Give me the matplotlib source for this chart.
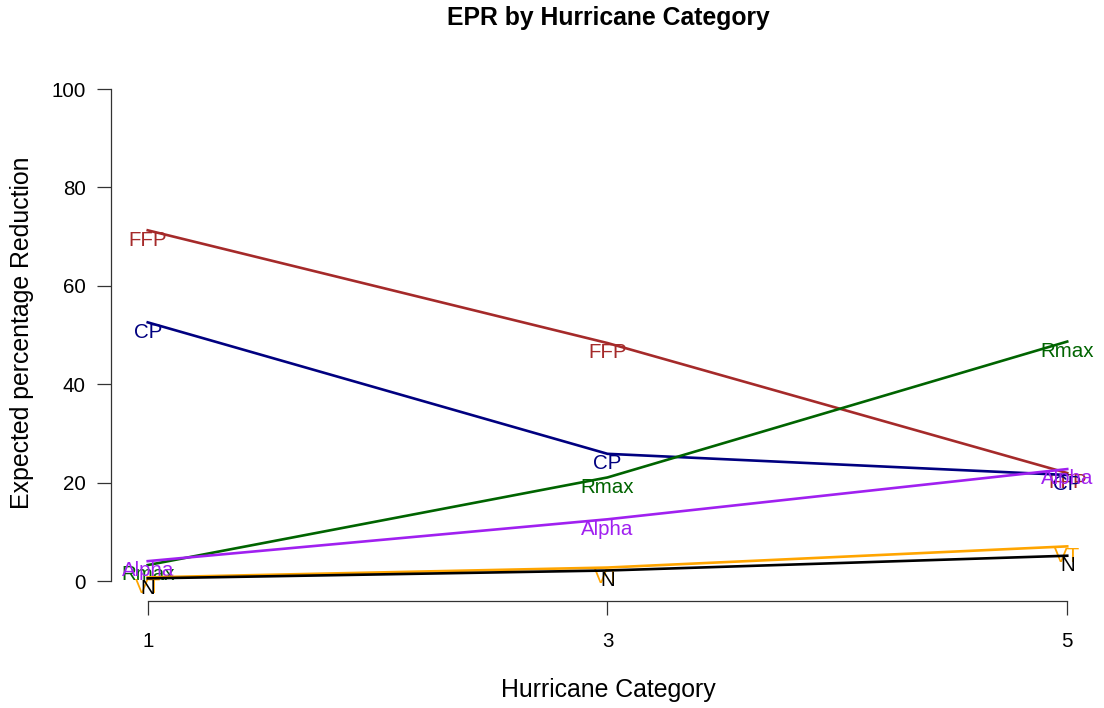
import matplotlib
matplotlib.use("Agg")
import matplotlib.pyplot as plt

# Expected percentage reduction per hurricane category
categories = [1, 3, 5]
series_names = ["FFP", "CP", "Rmax", "Alpha", "VT", "N"]
series_colors = ["#A52A2A", "#000080", "#006400", "#A020F0", "#FFA500", "#000000"]
ffp = [71.3, 48.4, 22.0]
cp = [52.6, 25.9, 21.6]
rmax = [3.3, 21.1, 48.7]
alpha = [4.1, 12.6, 22.8]
vt = [0.8, 2.8, 7.1]
n = [0.6, 2.2, 5.2]
values = [ffp, cp, rmax, alpha, vt, n]

y_ticks = [0, 20, 40, 60, 80, 100]

plt.rcParams["font.family"] = ["Liberation Sans", "DejaVu Sans"]

fig = plt.figure(figsize=(11.04, 7.08), dpi=100)
ax = fig.add_axes([0.1005, 0.1511, 0.8995, 0.751])

for i, (name, col, vals) in enumerate(zip(series_names, series_colors, values)):
    ax.plot(categories, vals, color=col, lw=1.9, zorder=2 + i)
    for x, y in zip(categories, vals):
        # labels sit just under each point
        ax.text(x, y - 2, name, color=col, fontsize=14.8,
                ha="center", va="center", zorder=2 + i)

ax.set_xlim(0.84, 5.16)
ax.set_ylim(-4, 104)
ax.set_xticks(categories)
ax.set_yticks(y_ticks)
ax.tick_params(axis="both", labelsize=14.8, length=10, width=0.9, color="#333333")
ax.tick_params(axis="x", pad=12)
ax.tick_params(axis="y", pad=8)

for side in ["top", "right"]:
    ax.spines[side].set_visible(False)
ax.spines["left"].set_bounds(0, 100)
ax.spines["bottom"].set_bounds(1, 5)
for side in ["left", "bottom"]:
    ax.spines[side].set_color("#333333")
    ax.spines[side].set_linewidth(0.9)

fig.text(0.551, 0.975, "EPR by Hurricane Category", ha="center", va="center",
         fontsize=17.8, fontweight="bold")
fig.text(0.551, 0.025, "Hurricane Category", ha="center", va="center", fontsize=17.9)
fig.text(0.02, 0.53, "Expected percentage Reduction", ha="center", va="center",
         rotation=90, fontsize=17.9)

fig.savefig("out.png", dpi=100)
